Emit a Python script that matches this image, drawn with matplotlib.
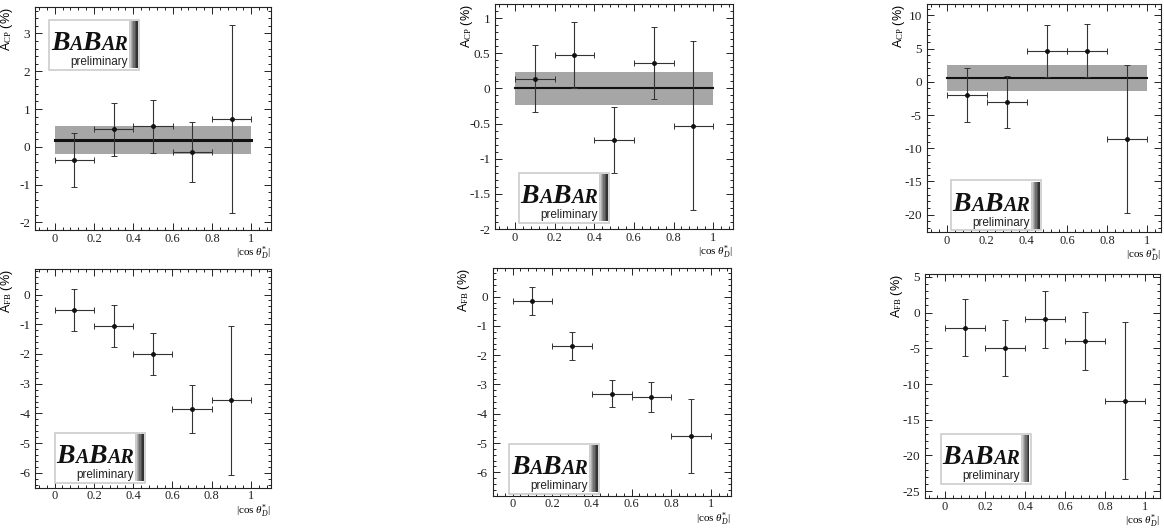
import numpy as np
import matplotlib
matplotlib.use("Agg")
import matplotlib.pyplot as plt
from matplotlib.ticker import MultipleLocator, AutoMinorLocator, FuncFormatter
from matplotlib.offsetbox import TextArea, HPacker, VPacker, AnchoredOffsetbox, DrawingArea
from matplotlib.patches import Rectangle

plt.rcParams['axes.unicode_minus'] = False
plt.rcParams['mathtext.fontset'] = 'custom'
plt.rcParams['mathtext.rm'] = 'Liberation Serif'
plt.rcParams['mathtext.it'] = 'Liberation Serif:italic'

# bin centres and half widths in |cos theta*_D|
bins = [0.1, 0.3, 0.5, 0.7, 0.9]
bin_half = 0.1

# A_CP (%) for the three modes
acp_1 = [-0.35, 0.46, 0.55, -0.14, 0.74]
acp_1_err = [0.72, 0.70, 0.70, 0.79, 2.48]
acp_2 = [0.14, 0.47, -0.73, 0.36, -0.53]
acp_2_err = [0.48, 0.47, 0.47, 0.51, 1.20]
acp_3 = [-2.0, -3.1, 4.65, 4.7, -8.6]
acp_3_err = [4.1, 3.9, 3.95, 4.05, 11.1]

# average A_CP band (central, half width)
band_1 = (0.175, 0.365)
band_2 = (0.005, 0.235)
band_3 = (0.575, 1.925)

# A_FB (%) for the three modes
afb_1 = [-0.51, -1.05, -2.0, -3.84, -3.56]
afb_1_err = [0.71, 0.70, 0.70, 0.81, 2.50]
afb_2 = [-0.15, -1.68, -3.31, -3.42, -4.77]
afb_2_err = [0.48, 0.47, 0.46, 0.51, 1.27]
afb_3 = [-2.1, -4.95, -0.95, -4.0, -12.35]
afb_3_err = [4.0, 3.9, 3.95, 4.1, 11.0]

xlabel = r"|cos $\theta^{*}_{D}$|"
acp_label = r"A$_{\rm CP}$ (%)"
afb_label = r"A$_{\rm FB}$ (%)"

W, H = 1164, 529
fig = plt.figure(figsize=(W / 100, H / 100), dpi=100)


def pix_axes(l, t, r, b):
    ax = fig.add_axes([l / W, 1 - b / H, (r - l) / W, (b - t) / H])
    ax.px_h = b - t
    return ax


def style(ax, xlim, ylim, ymajor, ylab):
    ax.set_xlim(*xlim)
    ax.set_ylim(*ylim)
    ax.xaxis.set_major_locator(MultipleLocator(0.2))
    ax.xaxis.set_minor_locator(AutoMinorLocator(5))
    ax.yaxis.set_major_locator(MultipleLocator(ymajor))
    ax.yaxis.set_minor_locator(AutoMinorLocator(5))
    fmt = FuncFormatter(lambda v, p: "%g" % round(v, 6))
    ax.xaxis.set_major_formatter(fmt)
    ax.yaxis.set_major_formatter(fmt)
    ax.tick_params(which='both', direction='in', top=True, right=True,
                   labelsize=9.5, width=0.7, colors='#222222')
    ax.tick_params(which='major', length=5)
    ax.tick_params(which='minor', length=2.5)
    ax.tick_params(axis='x', pad=2, labelsize=9)
    for lab in ax.get_xticklabels() + ax.get_yticklabels():
        lab.set_family('Liberation Serif')
    for s in ax.spines.values():
        s.set_linewidth(0.8)
        s.set_color('#222222')
    ax.set_ylabel(ylab, fontsize=9, family='Liberation Sans')
    ax.yaxis.set_label_coords(-0.085, 1.0)
    ax.yaxis.label.set_va('bottom')
    ax.yaxis.label.set_ha('right')
    ax.set_xlabel(xlabel, fontsize=8, family='Liberation Serif')
    ax.xaxis.set_label_coords(1.0, -14.5 / ax.px_h)
    ax.xaxis.label.set_ha('right')
    ax.xaxis.label.set_va('top')


def points(ax, y, yerr):
    ax.errorbar(bins, y, yerr=yerr, xerr=bin_half, fmt='o', ms=2.5,
                color='#111111', ecolor='#333333', elinewidth=0.8,
                capsize=2, capthick=0.7, zorder=3)


def band(ax, c, e, lw):
    ax.fill_between([0, 1], c - e, c + e, color='#a6a6a6', lw=0, zorder=1)
    ax.plot([0, 1], [c, c], color='#111111', lw=lw, zorder=2)


def babar(ax, x0, y0, loc):
    big = dict(size=20, family='Liberation Serif', weight='bold', style='italic', color='#111111')
    small = dict(size=14.5, family='Liberation Serif', weight='bold', style='italic', color='#111111')
    row = HPacker(children=[TextArea("B", textprops=big), TextArea("A", textprops=small),
                            TextArea("B", textprops=big), TextArea("AR", textprops=small)],
                  align='baseline', pad=0, sep=0)
    pre = TextArea("preliminary", textprops=dict(size=8.5, family='Liberation Sans', color='#222222'))
    col = VPacker(children=[row, pre], align='right', pad=0, sep=0)
    bar = DrawingArea(6, 34, 0, 0)
    for i in range(6):
        g = 0.8 - 0.12 * i
        bar.add_artist(Rectangle((i, 0), 1, 34, color=(g, g, g), lw=0))
    content = HPacker(children=[col, bar], align='bottom', pad=0, sep=1)
    box = AnchoredOffsetbox(loc=loc, child=content, pad=0.05, borderpad=0,
                            frameon=True, bbox_to_anchor=(x0, y0),
                            bbox_transform=ax.transAxes)
    box.patch.set_edgecolor('#cccccc')
    box.patch.set_linewidth(1.2)
    box.patch.set_boxstyle('square', pad=0.05)
    box.zorder = 4
    ax.add_artist(box)


# top row: A_CP
ax1 = pix_axes(35, 7, 271, 230)
style(ax1, (-0.1, 1.1), (-2.2, 3.7), 1, acp_label)
band(ax1, *band_1, lw=2.2)
points(ax1, acp_1, acp_1_err)
babar(ax1, 0.064, 0.94, 'upper left')

ax2 = pix_axes(495, 4, 733, 229)
style(ax2, (-0.1, 1.1), (-2.0, 1.2), 0.5, acp_label)
band(ax2, *band_2, lw=1.5)
points(ax2, acp_2, acp_2_err)
babar(ax2, 0.105, 0.031, 'lower left')

ax3 = pix_axes(926.7, 4, 1161, 232)
style(ax3, (-0.1, 1.07), (-22.6, 11.7), 5, acp_label)
band(ax3, *band_3, lw=1.5)
points(ax3, acp_3, acp_3_err)
babar(ax3, 0.108, 0.01, 'lower left')

# bottom row: A_FB
ax4 = pix_axes(35, 269.3, 270.7, 487.7)
style(ax4, (-0.1, 1.1), (-6.5, 0.85), 1, afb_label)
points(ax4, afb_1, afb_1_err)
babar(ax4, 0.089, 0.026, 'lower left')

ax5 = pix_axes(492.7, 268.3, 730.7, 495.7)
style(ax5, (-0.1, 1.1), (-6.8, 0.97), 1, afb_label)
points(ax5, afb_2, afb_2_err)
babar(ax5, 0.073, 0.012, 'lower left')

ax6 = pix_axes(925, 274, 1160, 498.3)
style(ax6, (-0.1, 1.075), (-26.0, 5.4), 5, afb_label)
points(ax6, afb_3, afb_3_err)
babar(ax6, 0.072, 0.068, 'lower left')

fig.savefig("out.png", dpi=100)
